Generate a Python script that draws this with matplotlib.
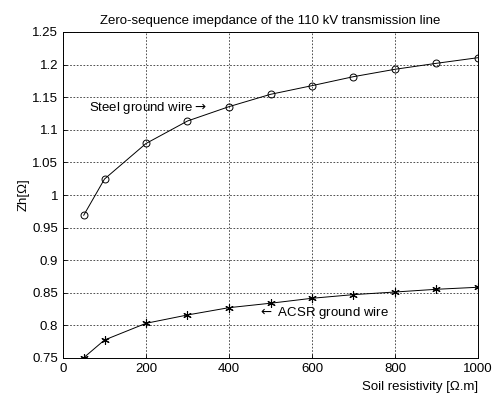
import matplotlib
matplotlib.use('Agg')
import matplotlib.pyplot as plt

plt.rcParams['font.family'] = ['Liberation Sans', 'DejaVu Sans']

resistivity = [50, 100, 200, 300, 400, 500, 600, 700, 800, 900, 1000]
zh_steel = [0.969, 1.0245, 1.079, 1.1135, 1.1355, 1.1544, 1.1677, 1.1815, 1.1928, 1.202, 1.2106]
zh_acsr = [0.7505, 0.7776, 0.8032, 0.816, 0.8272, 0.834, 0.8416, 0.8472, 0.8512, 0.8554, 0.8585]
x_ticks = [0, 200, 400, 600, 800, 1000]
y_ticks = [0.75, 0.8, 0.85, 0.9, 0.95, 1, 1.05, 1.1, 1.15, 1.2, 1.25]
y_tick_labels = ['0.75', '0.8', '0.85', '0.9', '0.95', '1', '1.05', '1.1', '1.15', '1.2', '1.25']

fig = plt.figure(figsize=(4.96, 3.98), dpi=100)
ax = fig.add_axes([63 / 496, 1 - 358 / 398, 415 / 496, 326 / 398])

ax.plot(resistivity, zh_steel, color='black', lw=0.7, marker='o',
        markersize=5, markerfacecolor='none', markeredgewidth=0.7)
ax.plot(resistivity, zh_acsr, color='black', lw=0.7, marker=(6, 2, 0),
        markersize=6, markeredgewidth=0.8)

ax.set_xlim(0, 1000)
ax.set_ylim(0.75, 1.25)
ax.set_xticks(x_ticks)
ax.set_yticks(y_ticks)
ax.set_yticklabels(y_tick_labels)
ax.grid(True, color='#333333', linestyle=(0, (2, 2)), linewidth=0.6)
ax.tick_params(direction='in', length=3, labelsize=9.5, width=0.6)
for sp in ax.spines.values():
    sp.set_linewidth(0.7)

ax.set_title('Zero-sequence imepdance of the 110 kV transmission line', fontsize=9.5, pad=6)
ax.set_ylabel('Zh[\u03a9]', fontsize=9.5, labelpad=2)
ax.set_xlabel('Soil resistivity [\u03a9.m]', fontsize=9.5)
ax.xaxis.set_label_coords(1.0, -0.07)
ax.xaxis.label.set_ha('right')

ax.text(63, 1.133, 'Steel ground wire$\\rightarrow$', fontsize=9.5, va='center')
ax.text(470, 0.8195, '$\\leftarrow$ ACSR ground wire', fontsize=9.5, va='center')

fig.savefig('out.png', dpi=100, facecolor='white')
